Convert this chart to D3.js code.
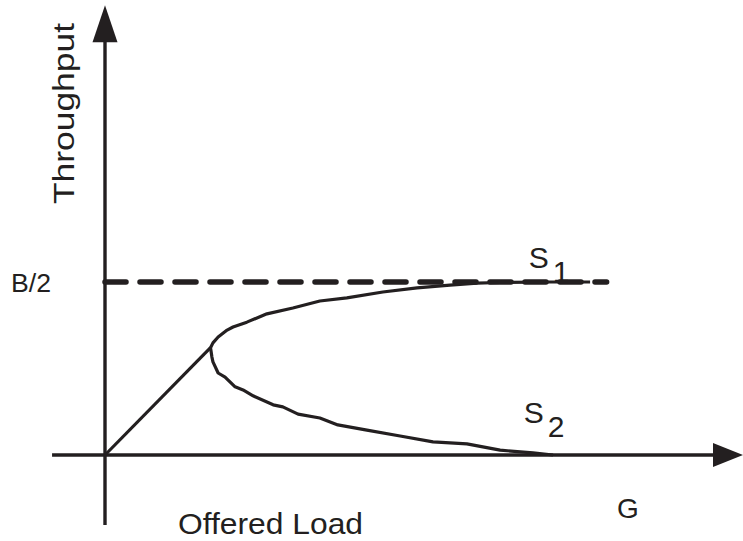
<!DOCTYPE html>
<html>
<head>
<meta charset="utf-8">
<script src="https://cdn.jsdelivr.net/npm/d3@7"></script>
<style>
  html, body { margin: 0; padding: 0; background: #fff; }
  svg { display: block; }
  text { font-family: "Liberation Sans", Arial, Helvetica, sans-serif; fill: #231f20; }
</style>
</head>
<body>
<svg id="chart" width="743" height="541"></svg>
<script>
// offered load G vs throughput S (S = G below the knee)
const linearPart = [[0, 0], [0.305, 0.31]];

// upper branch S1 (from the knee out towards B/2)
const upperBranch = [
  [0.305, 0.31], [0.312, 0.324], [0.327, 0.341], [0.353, 0.361], [0.370, 0.370],
  [0.410, 0.384], [0.468, 0.408], [0.543, 0.425], [0.621, 0.445], [0.699, 0.454],
  [0.803, 0.471], [0.902, 0.483], [0.997, 0.491], [1.075, 0.497], [1.142, 0.4986],
  [1.286, 0.5], [1.402, 0.5]
];

// lower branch S2 (from the knee down to zero)
const lowerBranch = [
  [0.305, 0.31], [0.309, 0.283], [0.312, 0.269], [0.327, 0.237], [0.347, 0.225],
  [0.376, 0.197], [0.399, 0.188], [0.428, 0.171], [0.486, 0.145], [0.514, 0.139],
  [0.558, 0.118], [0.621, 0.107], [0.673, 0.087], [0.757, 0.072], [0.853, 0.055],
  [0.948, 0.038], [1.046, 0.032], [1.142, 0.014], [1.237, 0.006], [1.295, 0.0]
];

const capacity = 0.5;          // B/2
const capacityEnd = 1.457;     // where the dashed line stops
const xExtent = [-0.153, 1.844];
const yExtent = [-0.202, 1.30];

const seriesLabels = [
  { name: "S", sub: "1", g: 1.225, s: 0.54 },
  { name: "S", sub: "2", g: 1.21, s: 0.093 }
];

const svg = d3.select("#chart");
const ink = "#231f20";

const x = d3.scaleLinear().domain([0, 0.5]).range([105, 278]);
const y = d3.scaleLinear().domain([0, 0.5]).range([455, 282]);

const line = d3.line()
  .x(d => x(d[0]))
  .y(d => y(d[1]))
  .curve(d3.curveLinear);

// axes
svg.append("line")
  .attr("x1", x(xExtent[0])).attr("x2", x(xExtent[1]) - 20)
  .attr("y1", y(0)).attr("y2", y(0))
  .attr("stroke", ink).attr("stroke-width", 3.4);

svg.append("line")
  .attr("x1", x(0)).attr("x2", x(0))
  .attr("y1", y(yExtent[0])).attr("y2", y(yExtent[1]) + 20)
  .attr("stroke", ink).attr("stroke-width", 3.4);

// arrow heads
const xTip = x(xExtent[1]), yTip = y(yExtent[1]);
svg.append("path")
  .attr("d", `M${xTip},${y(0)} L${xTip - 30},${y(0) - 12} L${xTip - 30},${y(0) + 12} Z`)
  .attr("fill", ink);
svg.append("path")
  .attr("d", `M${x(0)},${yTip} L${x(0) - 12.5},${yTip + 37} L${x(0) + 12.5},${yTip + 37} Z`)
  .attr("fill", ink);

// B/2 dashed capacity line
svg.append("line")
  .attr("x1", x(0)).attr("x2", x(capacityEnd) - 2.5)
  .attr("y1", y(capacity)).attr("y2", y(capacity))
  .attr("stroke", ink).attr("stroke-width", 5.5)
  .attr("stroke-linecap", "round")
  .attr("stroke-dasharray", "21,14");

// curves
svg.append("path")
  .datum(linearPart)
  .attr("d", line)
  .attr("fill", "none").attr("stroke", ink).attr("stroke-width", 3.2);

svg.append("path")
  .datum(upperBranch.slice().reverse().concat(lowerBranch.slice(1)))
  .attr("d", line)
  .attr("fill", "none").attr("stroke", ink).attr("stroke-width", 3.2)
  .attr("stroke-linejoin", "round");

// labels
svg.append("text")
  .attr("transform", `translate(74,${113.5}) rotate(-90)`)
  .attr("text-anchor", "middle")
  .attr("font-size", 29)
  .attr("textLength", 181).attr("lengthAdjust", "spacingAndGlyphs")
  .text("Throughput");

svg.append("text")
  .attr("x", 11).attr("y", y(capacity) + 10)
  .attr("font-size", 26)
  .attr("textLength", 40).attr("lengthAdjust", "spacingAndGlyphs")
  .text("B/2");

svg.append("text")
  .attr("x", 178).attr("y", 534)
  .attr("font-size", 29)
  .attr("textLength", 185).attr("lengthAdjust", "spacingAndGlyphs")
  .text("Offered Load");

svg.append("text")
  .attr("x", 617).attr("y", 518)
  .attr("font-size", 28)
  .text("G");

seriesLabels.forEach(d => {
  const t = svg.append("text")
    .attr("x", x(d.g)).attr("y", y(d.s))
    .attr("font-size", 30);
  t.append("tspan").text(d.name);
  t.append("tspan").attr("dx", 4).attr("dy", 14).text(d.sub);
});
</script>
</body>
</html>
